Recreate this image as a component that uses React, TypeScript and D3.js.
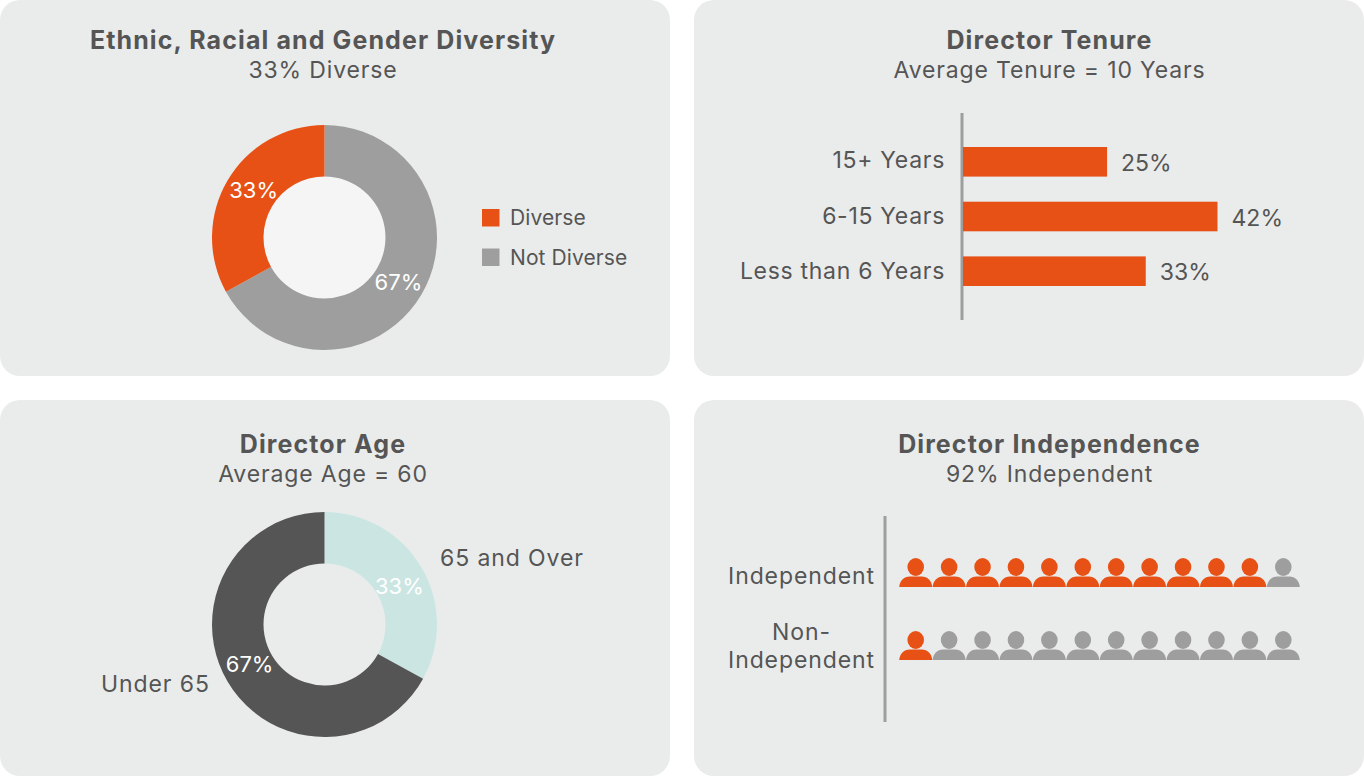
import React from 'react'
import * as d3 from 'd3'

const ORANGE = '#e85115'
const GRAY = '#9d9e9d'
const DARK = '#555555'
const MINT = '#cbe6e2'
const PANEL = '#eaeceb'
const FONT = "Inter, 'Open Sans', sans-serif"

const diversityLabels = ['Diverse', 'Not Diverse']
const diversityValues = [33, 67]
const ageLabels = ['65 and Over', 'Under 65']
const ageValues = [33, 67]
const tenureLabels = ['15+ Years', '6-15 Years', 'Less than 6 Years']
const tenureValues = [25, 42, 33]
// drawn bar lengths in the source are not quite proportional to the printed percentages
const tenureBarLengths = [24.4, 43.1, 30.95]
const independenceRows = ['Independent', 'Non-', 'Independent']
const independentSeats = [11, 1]
const boardSize = 12

const pie = d3.pie<number>().sort(null)
const labelArc = d3.arc<d3.PieArcDatum<number>>().innerRadius(87).outerRadius(87)

interface DonutProps {
  cy: number
  values: number[]
  colors: string[]
  hole: string
  nudges: [number, number][]
}

const Donut: React.FC<DonutProps> = ({ cy, values, colors, hole, nudges }) => {
  const arc = d3.arc<d3.PieArcDatum<number>>().innerRadius(61).outerRadius(112.5)
  const slices = pie(values)
  return (
    <g transform={`translate(324.5,${cy})`}>
      <circle r={61} fill={hole} />
      {slices.map((d, i) => (
        <path key={i} d={arc(d) || ''} fill={colors[i]} />
      ))}
      {slices.map((d, i) => {
        const [x, y] = labelArc.centroid(d)
        return (
          <text key={i} x={x + nudges[i][0]} y={y + nudges[i][1] + 8} textAnchor="middle" fill="#fff" fontSize={22}>
            {d.data}%
          </text>
        )
      })}
    </g>
  )
}

const Person: React.FC<{ x: number; y: number; fill: string }> = ({ x, y, fill }) => (
  <g transform={`translate(${x},${y})`} fill={fill}>
    <ellipse cx={0} cy={-20} rx={8.3} ry={9} />
    <path d="M-16.5,0 C-16,-6 -12,-10.5 -6,-10.5 L6,-10.5 C12,-10.5 16,-6 16.5,0 Z" />
  </g>
)

const Heading: React.FC<{ x: number; y: number; title: string; sub: string }> = ({ x, y, title, sub }) => (
  <g textAnchor="middle" fill={DARK}>
    <text x={x} y={y} fontSize={25} fontWeight={700} letterSpacing={1.1}>{title}</text>
    <text x={x} y={y + 29} fontSize={23} letterSpacing={0.85}>{sub}</text>
  </g>
)

export default function App() {
  const tenureY = d3.scaleBand<string>().domain(tenureLabels).range([134.45, 298.55]).paddingInner(0.459).paddingOuter(0.2295)
  const tenureX = d3.scaleLinear().domain([0, 42]).range([963, 1211])
  const seatX = d3.scaleBand<number>().domain(d3.range(boardSize)).range([899, 1300])

  return (
    <svg width={1364} height={776} style={{ position: 'absolute', left: 0, top: 0 }} fontFamily={FONT}>
      <rect x={0} y={0} width={670} height={376} rx={20} fill={PANEL} />
      <rect x={694} y={0} width={670} height={376} rx={20} fill={PANEL} />
      <rect x={0} y={400} width={670} height={376} rx={20} fill={PANEL} />
      <rect x={694} y={400} width={670} height={376} rx={20} fill={PANEL} />

      <Heading x={323} y={49} title="Ethnic, Racial and Gender Diversity" sub="33% Diverse" />
      <Heading x={1049.5} y={49} title="Director Tenure" sub="Average Tenure = 10 Years" />
      <Heading x={323} y={453} title="Director Age" sub="Average Age = 60" />
      <Heading x={1049.5} y={453} title="Director Independence" sub="92% Independent" />

      <Donut
        cy={237.5}
        values={[diversityValues[1], diversityValues[0]]}
        colors={[GRAY, ORANGE]}
        hole="#f5f5f5"
        nudges={[[-1, 0], [4, -3.7]]}
      />
      {diversityLabels.map((label, i) => (
        <g key={label}>
          <rect x={482} y={209 + i * 39.5} width={17.5} height={17.5} fill={i === 0 ? ORANGE : GRAY} />
          <text x={510} y={225 + i * 39.5} fontSize={21} letterSpacing={0.1} fill={DARK}>{label}</text>
        </g>
      ))}

      <Donut cy={624.5} values={ageValues} colors={[MINT, DARK]} hole={PANEL} nudges={[[0, 6], [0, -5]]} />
      <g fill={DARK} fontSize={23} letterSpacing={0.9}>
        <text x={440} y={566}>{ageLabels[0]}</text>
        <text x={101} y={692}>{ageLabels[1]}</text>
      </g>

      <line x1={962} x2={962} y1={113} y2={320} stroke={GRAY} strokeWidth={3} />
      {tenureLabels.map((label, i) => {
        const y = tenureY(label) || 0
        const h = tenureY.bandwidth()
        return (
          <g key={label} fontSize={23} fill={DARK}>
            <rect x={tenureX(0)} y={y} width={tenureX(tenureBarLengths[i]) - tenureX(0)} height={h} fill={ORANGE} />
            <text x={945} y={y + h / 2 + 6 + i} textAnchor="end" letterSpacing={0.7}>{label}</text>
            <text x={tenureX(tenureBarLengths[i]) + 14} y={y + h / 2 + 9}>{tenureValues[i]}%</text>
          </g>
        )
      })}

      <line x1={885} x2={885} y1={516} y2={722} stroke={GRAY} strokeWidth={3} />
      <g fill={DARK} fontSize={23} letterSpacing={0.9} textAnchor="middle">
        {independenceRows.map((label, i) => (
          <text key={i} x={801.5} y={584 + [0, 56, 84][i]}>{label}</text>
        ))}
      </g>
      {independentSeats.map((count, row) =>
        d3.range(boardSize).map((s) => (
          <Person
            key={`${row}-${s}`}
            x={(seatX(s) || 0) + seatX.bandwidth() / 2}
            y={row === 0 ? 587 : 660}
            fill={s < count ? ORANGE : GRAY}
          />
        ))
      )}
    </svg>
  )
}
